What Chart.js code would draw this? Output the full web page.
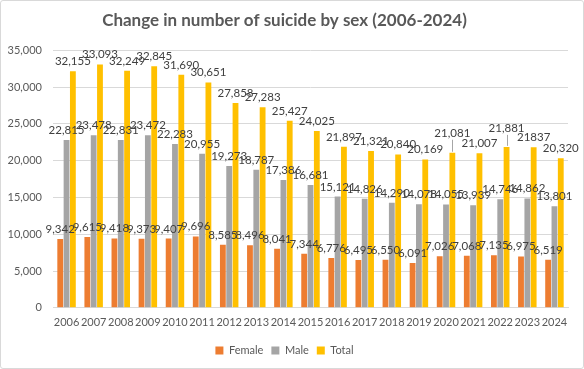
<!DOCTYPE html>
<html>
<head>
<meta charset="utf-8">
<script src="https://cdn.jsdelivr.net/npm/chart.js@4/dist/chart.umd.min.js"></script>
<style>
  html, body { margin: 0; padding: 0; background: #fff; }
  #wrap { position: relative; width: 582px; height: 367px; border: 1px solid #d9d9d9; border-radius: 3px; }
</style>
</head>
<body>
<div id="wrap"><canvas id="myChart" width="582" height="367"></canvas></div>
<script>
var years = ['2006', '2007', '2008', '2009', '2010', '2011', '2012', '2013', '2014', '2015',
  '2016', '2017', '2018', '2019', '2020', '2021', '2022', '2023', '2024'];
var female = [9342, 9615, 9418, 9373, 9407, 9696, 8585, 8496, 8041, 7344,
  6776, 6495, 6550, 6091, 7026, 7068, 7135, 6975, 6519];
var male = [22815, 23478, 22831, 23472, 22283, 20955, 19273, 18787, 17386, 16681,
  15121, 14826, 14290, 14078, 14055, 13939, 14746, 14862, 13801];
var total = [32155, 33093, 32249, 32845, 31690, 30651, 27858, 27283, 25427, 24025,
  21897, 21321, 20840, 20169, 21081, 21007, 21881, 21837, 20320];

function fmt(v) {
  return String(v).replace(/\B(?=(\d{3})+(?!\d))/g, ',');
}
// the 2023 total label has no thousands separator in the original
var totalLabels = total.map(function (v, i) { return i === 17 ? String(v) : fmt(v); });

var fontFamily = 'Lato, "Open Sans", sans-serif';

// labels drawn above each bar, a couple of them lifted with a leader line
var labelLift = { 2: { 14: 10, 16: 9 } };
var barLabels = {
  id: 'barLabels',
  afterDatasetsDraw: function (chart) {
    var ctx = chart.ctx;
    ctx.save();
    ctx.font = '11.5px ' + fontFamily;
    ctx.fillStyle = '#404040';
    ctx.textAlign = 'center';
    ctx.textBaseline = 'bottom';
    chart.data.datasets.forEach(function (ds, di) {
      var meta = chart.getDatasetMeta(di);
      meta.data.forEach(function (bar, i) {
        var lift = (labelLift[di] && labelLift[di][i]) || 0;
        var text = di === 2 ? totalLabels[i] : fmt(ds.data[i]);
        var y = bar.y - 4 - lift;
        if (lift) {
          ctx.strokeStyle = '#a6a6a6';
          ctx.lineWidth = 1;
          ctx.beginPath();
          ctx.moveTo(Math.round(bar.x) + 0.5, y + 1);
          ctx.lineTo(Math.round(bar.x) + 0.5, bar.y - 1);
          ctx.stroke();
        }
        ctx.fillText(text, bar.x, y);
      });
    });
    ctx.restore();
  }
};

var ctx = document.getElementById('myChart').getContext('2d');
var myChart = new Chart(ctx, {
  type: 'bar',
  data: {
    labels: years,
    datasets: [
      { label: 'Female', data: female, backgroundColor: '#ED7D31' },
      { label: 'Male', data: male, backgroundColor: '#A5A5A5' },
      { label: 'Total', data: total, backgroundColor: '#FFC000' }
    ]
  },
  options: {
    responsive: false,
    animation: false,
    devicePixelRatio: 1,
    layout: { padding: { left: 0, right: 15, top: 0, bottom: 2 } },
    datasets: { bar: { barPercentage: 0.92, categoryPercentage: 0.7 } },
    plugins: {
      title: {
        display: true,
        text: 'Change in number of suicide by sex (2006-2024)',
        color: '#595959',
        font: { family: fontFamily, size: 17, weight: 'bold' },
        padding: { top: 9, bottom: 20 }
      },
      legend: {
        position: 'bottom',
        labels: {
          color: '#595959',
          font: { family: fontFamily, size: 11 },
          boxWidth: 8,
          boxHeight: 8,
          padding: 8,
          useBorderRadius: false
        }
      },
      tooltip: { enabled: false }
    },
    scales: {
      x: {
        grid: { display: false, drawTicks: false },
        border: { color: '#d9d9d9' },
        ticks: { color: '#595959', font: { family: fontFamily, size: 11 }, maxRotation: 0, autoSkip: false, padding: 8 }
      },
      y: {
        min: 0,
        max: 35000,
        afterFit: function (s) { s.width = 52; },
        grid: { color: '#d9d9d9', drawTicks: false },
        border: { display: false },
        ticks: {
          stepSize: 5000,
          color: '#595959',
          font: { family: fontFamily, size: 11 },
          padding: 11,
          callback: function (v) { return fmt(v); }
        }
      }
    }
  },
  plugins: [barLabels]
});
</script>
</body>
</html>
